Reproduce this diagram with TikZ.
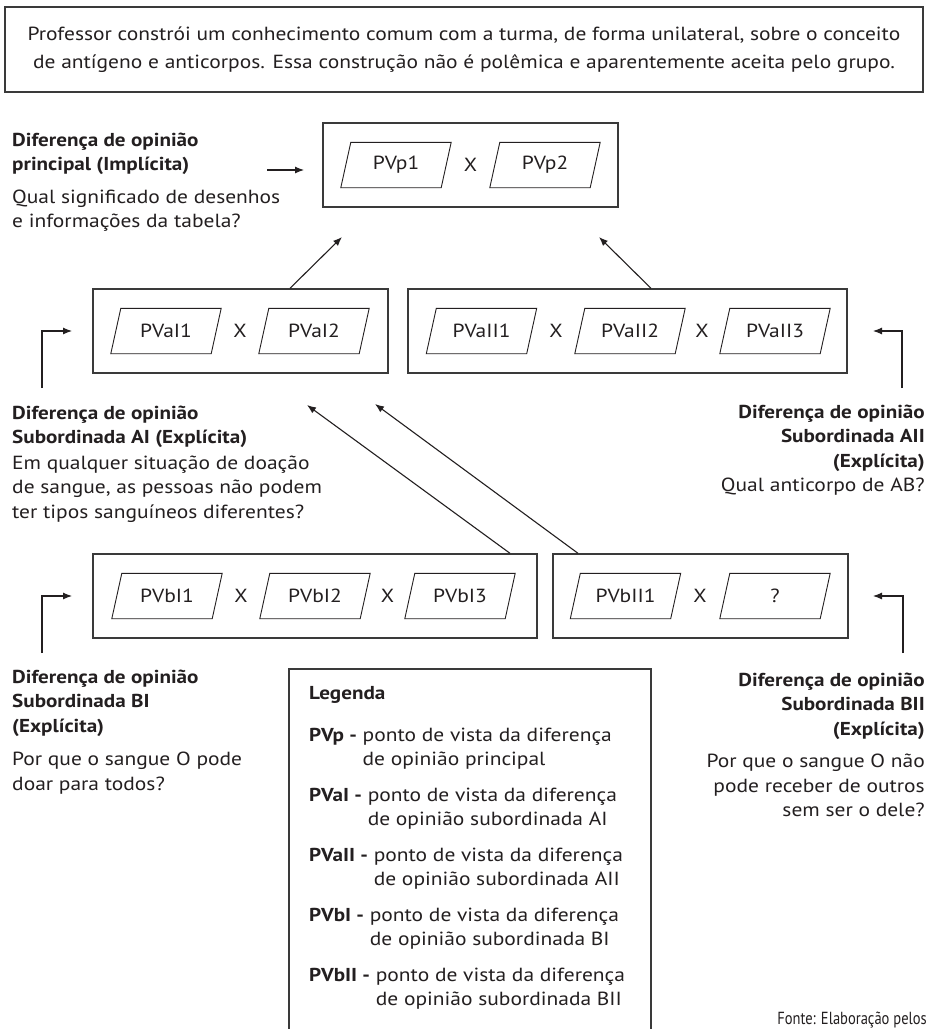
\documentclass[tikz,border=0pt]{standalone}
\usepackage{fontspec}
\setmainfont{PT Sans}[FakeStretch=1.13]
\newfontfamily\condfont[FakeStretch=0.83]{PT Sans}
\usetikzlibrary{arrows.meta}
\definecolor{ink}{HTML}{231F20}
\definecolor{boxline}{HTML}{3A3A3A}
\tikzset{
  frame/.style={draw=boxline, line width=1.4pt, minimum height=84pt, inner sep=0pt},
  pvtext/.style={font=\fontsize{19}{21}\selectfont, text=ink, inner sep=0pt},
  pvshape/.style={draw=ink, line width=0.9pt},
  arr/.style={draw=ink, line width=1.1pt, -{Latex[length=9pt,width=7pt]}},
  lab/.style={font=\fontsize{19}{24.5}\selectfont, text=ink, inner sep=0pt},
}
\newcommand{\pvg}[4]{%
  \node[pvtext, minimum width=100pt, minimum height=45pt] (#1) at (#2,#3) {#4};
  \draw[pvshape] ([xshift=5pt]#1.north west) -- ([xshift=5pt]#1.north east)
     -- ([xshift=-5pt]#1.south east) -- ([xshift=-5pt]#1.south west) -- cycle;
}
\newcommand{\bl}[1]{{\fontsize{18.7}{24.5}\selectfont\bfseries #1}}
\begin{document}
\begin{tikzpicture}[x=1pt,y=-1pt]
\useasboundingbox (0,0) rectangle (928,1029);
\clip (0,0) rectangle (928,1029);
\fill[white] (0,0) rectangle (928,1029);

% header
\node[frame, minimum width=918pt, minimum height=85pt, align=center,
      font=\fontsize{19}{28}\selectfont, text=ink] (head) at (464,49.5)
  {Professor constrói um conhecimento comum com a turma, de forma unilateral, sobre o conceito\\
   de antígeno e anticorpos. Essa construção não é polêmica e aparentemente aceita pelo grupo.};

% level p
\node[frame, minimum width=295pt] (pbox) at (470.5,165) {};
\pvg{pvp1}{396}{165}{PVp1}
\node[pvtext] (xp) at (470.5,165) {X};
\pvg{pvp2}{545}{165}{PVp2}

% level A
\node[frame, minimum width=295pt] (aIbox) at (240.5,331) {};
\pvg{pvai1}{166}{331}{PVaI1}
\node[pvtext] (xa1) at (240,331) {X};
\pvg{pvai2}{314}{331}{PVaI2}

\node[frame, minimum width=439pt] (aIIbox) at (627.5,331) {};
\pvg{pvaii1}{481.5}{331}{PVaII1}
\node[pvtext] (xa2) at (556,331) {X};
\pvg{pvaii2}{630}{331}{PVaII2}
\node[pvtext] (xa3) at (702,331) {X};
\pvg{pvaii3}{775}{331}{PVaII3}

% level B
\node[frame, minimum width=444pt] (bIbox) at (315,596) {};
\pvg{pvbi1}{167}{596}{PVbI1}
\node[pvtext] (xb1) at (241,596) {X};
\pvg{pvbi2}{315}{596}{PVbI2}
\node[pvtext] (xb2) at (387.5,596) {X};
\pvg{pvbi3}{460}{596}{PVbI3}

\node[frame, minimum width=295pt] (bIIbox) at (700.5,596) {};
\pvg{pvbii1}{625.5}{596}{PVbII1}
\node[pvtext] (xb3) at (700,596) {X};
\pvg{pvbii2}{775}{596}{?}

% labels
\node[lab, anchor=base west] (plab) at (12,146) {\begin{tabular}[t]{@{}l@{}}
  \bl{Diferença de opinião}\\ \bl{principal (Implícita)}\\[8pt]
  Qual significado de desenhos\\ e informações da tabela?\end{tabular}};
\node[lab, anchor=base west] (ailab) at (12,419) {\begin{tabular}[t]{@{}l@{}}
  \bl{Diferença de opinião}\\ \bl{Subordinada AI (Explícita)}\\[1pt]
  Em qualquer situação de doação\\ de sangue, as pessoas não podem\\ ter tipos sanguíneos diferentes?\end{tabular}};
\node[lab, anchor=base east] (aiilab) at (925,418) {\begin{tabular}[t]{@{}r@{}}
  \bl{Diferença de opinião}\\ \bl{Subordinada AII}\\ \bl{(Explícita)}\\
  Qual anticorpo de AB?\end{tabular}};
\node[lab, anchor=base west] (bilab) at (12,683) {\begin{tabular}[t]{@{}l@{}}
  \bl{Diferença de opinião}\\ \bl{Subordinada BI}\\ \bl{(Explícita)}\\[9pt]
  Por que o sangue O pode\\ doar para todos?\end{tabular}};
\node[lab, anchor=base east] (biilab) at (925,686) {\begin{tabular}[t]{@{}r@{}}
  \bl{Diferença de opinião}\\ \bl{Subordinada BII}\\ \bl{(Explícita)}\\[8pt]
  Por que o sangue O não\\ pode receber de outros\\ sem ser o dele?\end{tabular}};

% arrows
\coordinate (pin) at (304,170);
\coordinate (pout) at (267,170);
\draw[arr] (pout) -- (pin);

\coordinate (aistart) at (42,388);
\coordinate (aiin) at (72,331);
\draw[arr] (aistart) |- (aiin);
\coordinate (aiistart) at (902,388);
\coordinate (aiiin) at (873,331);
\draw[arr] (aiistart) |- (aiiin);
\coordinate (bistart) at (42,653);
\coordinate (biin) at (72,596);
\draw[arr] (bistart) |- (biin);
\coordinate (biistart) at (903,653);
\coordinate (biiin) at (873,596);
\draw[arr] (biistart) |- (biiin);

\coordinate (tipai) at (342,237);
\coordinate (tipaii) at (599,237);
\draw[arr] ([xshift=49.5pt]aIbox.north) -- (tipai);
\draw[arr] ([xshift=23.5pt]aIIbox.north) -- (tipaii);
\coordinate (tipbi) at (307,405);
\coordinate (tipbii) at (375,404);
\draw[arr] ([xshift=195pt]bIbox.north) -- (tipbi);
\draw[arr] ([xshift=-122.5pt]bIIbox.north) -- (tipbii);

% legend
\node[draw=boxline, line width=1.4pt, minimum width=362pt, minimum height=420pt, inner sep=0pt]
  (legbox) at (470,879) {};
\node[lab, anchor=base west, font=\fontsize{18.7}{20}\selectfont\bfseries] (legt) at (309,699) {Legenda};
\node[lab, anchor=base west] (leg1) at (309,741) {\begin{tabular}[t]{@{}l@{ }l@{}}
  \bl{PVp -} & ponto de vista da diferença\\ & de opinião principal\end{tabular}};
\node[lab, anchor=base west] (leg2) at (309,801) {\begin{tabular}[t]{@{}l@{ }l@{}}
  \bl{PVaI -} & ponto de vista da diferença\\ & de opinião subordinada AI\end{tabular}};
\node[lab, anchor=base west] (leg3) at (309,861) {\begin{tabular}[t]{@{}l@{ }l@{}}
  \bl{PVaII -} & ponto de vista da diferença\\ & de opinião subordinada AII\end{tabular}};
\node[lab, anchor=base west] (leg4) at (309,921) {\begin{tabular}[t]{@{}l@{ }l@{}}
  \bl{PVbI -} & ponto de vista da diferença\\ & de opinião subordinada BI\end{tabular}};
\node[lab, anchor=base west] (leg5) at (309,981) {\begin{tabular}[t]{@{}l@{ }l@{}}
  \bl{PVbII -} & ponto de vista da diferença\\ & de opinião subordinada BII\end{tabular}};

\node[anchor=base east, inner sep=0pt, text=ink, font=\condfont\fontsize{17.5}{19}\selectfont] (fonte) at (927,1024) {Fonte: Elaboração pelos};
\end{tikzpicture}
\end{document}
